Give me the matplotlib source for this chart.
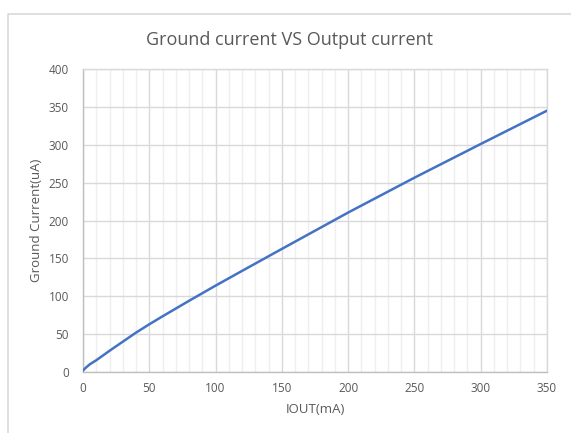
import numpy as np
import matplotlib
matplotlib.use("Agg")
import matplotlib.pyplot as plt
from matplotlib.lines import Line2D
from matplotlib.ticker import MultipleLocator

plt.rcParams['font.family'] = ['Open Sans', 'DejaVu Sans']

# data
iout_ma = [0, 2, 5, 10, 20, 30, 40, 50, 60, 80, 100, 120, 150, 200, 250, 300, 350]
ground_ua = [2, 5.5, 10, 15.5, 28, 40, 52, 63, 73.5, 94, 114, 133.5, 162.5, 210.5, 256.5, 301, 345]

W, H = 571, 433
fig = plt.figure(figsize=(W / 100, H / 100), dpi=100)

# plot area in pixels: left 83, right 547, top 69, bottom 372
ax = fig.add_axes([83 / W, 1 - 372 / H, (547 - 83) / W, (372 - 69) / H])

ax.plot(iout_ma, ground_ua, color='#4472C4', lw=1.8, solid_capstyle='round',
        solid_joinstyle='round', zorder=3)

ax.set_xlim(0, 350)
ax.set_ylim(0, 400)
ax.xaxis.set_major_locator(MultipleLocator(50))
ax.xaxis.set_minor_locator(MultipleLocator(10))
ax.yaxis.set_major_locator(MultipleLocator(50))

ax.grid(which='major', color='#d9d9d9', lw=1.0, zorder=0)
ax.grid(which='minor', axis='x', color='#efefef', lw=1.0, zorder=0)
ax.set_axisbelow(True)

for s in ax.spines.values():
    s.set_color('#d9d9d9')
    s.set_linewidth(1.0)
ax.spines['left'].set_color('#bfbfbf')
ax.spines['bottom'].set_color('#bfbfbf')

ax.tick_params(which='both', length=0, labelsize=8.5, colors='#595959')
ax.tick_params(axis='y', pad=10)
ax.tick_params(axis='x', pad=7)

ax.set_xlabel('IOUT(mA)', fontsize=9.5, color='#595959', labelpad=6)
ax.set_ylabel('Ground Current(uA)', fontsize=9.5, color='#595959', labelpad=4)

fig.text(289 / W, 1 - 40 / H, 'Ground current VS Output current', ha='center', va='center',
         fontsize=13, color='#595959')

# chart frame (cropped at right and bottom)
fig.add_artist(Line2D([7.5 / W, 7.5 / W, 1], [0, 1 - 13.5 / H, 1 - 13.5 / H],
                      color='#d9d9d9', lw=1.2, transform=fig.transFigure))

fig.savefig('out.png', dpi=100)
